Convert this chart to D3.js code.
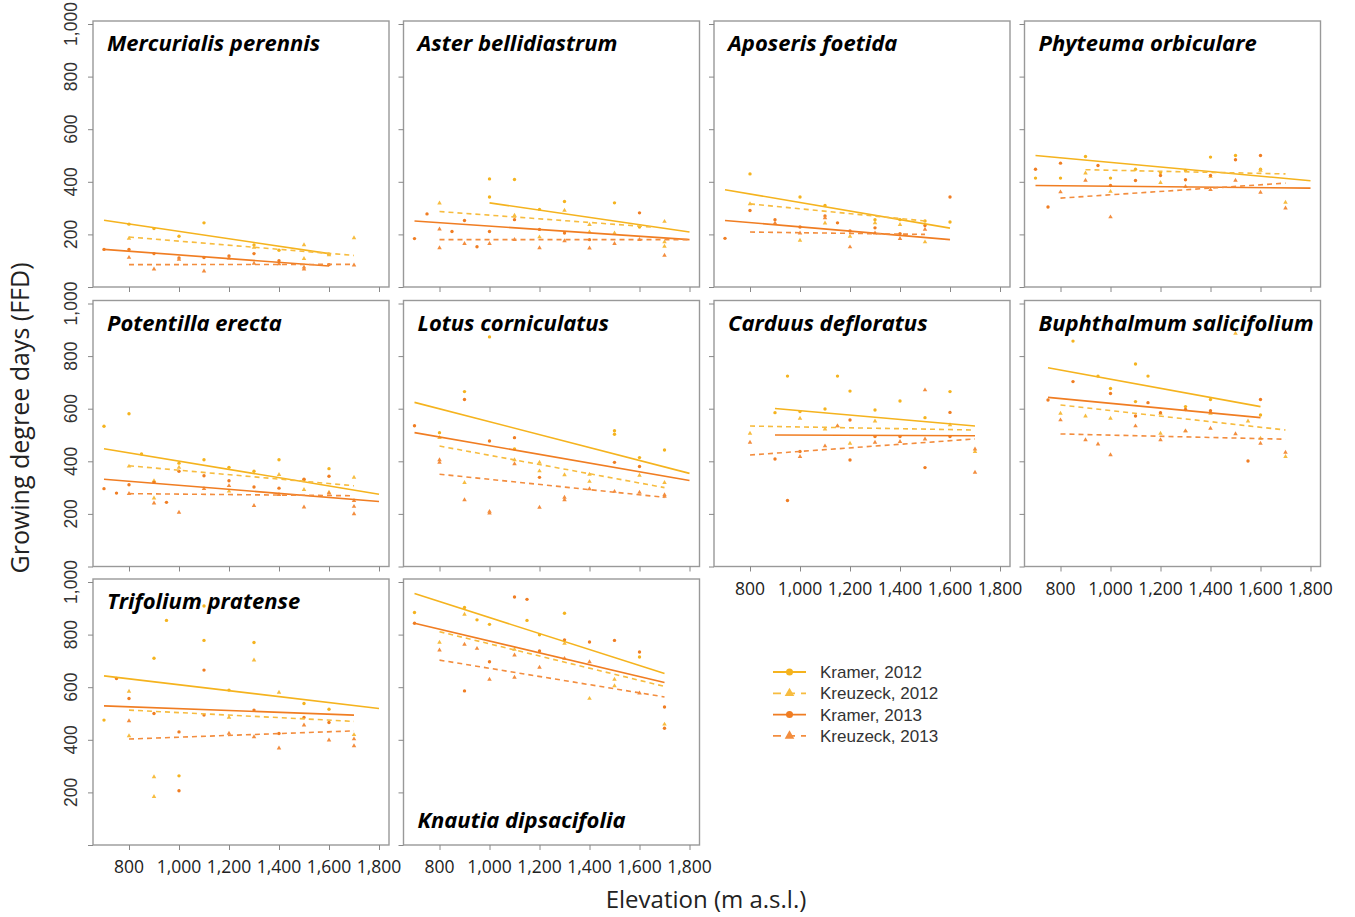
<!DOCTYPE html>
<html>
<head>
<meta charset="utf-8">
<script src="https://cdn.jsdelivr.net/npm/d3@7"></script>
<style>
  body { margin: 0; background: #fff; }
  svg { display: block; }
</style>
</head>
<body>
<svg id="chart" width="1355" height="917"></svg>
<script>
// species panels, in reading order
const species = ['Mercurialis perennis', 'Aster bellidiastrum', 'Aposeris foetida', 'Phyteuma orbiculare',
  'Potentilla erecta', 'Lotus corniculatus', 'Carduus defloratus', 'Buphthalmum salicifolium',
  'Trifolium pratense', 'Knautia dipsacifolia']

const seriesNames = ['Kramer, 2012', 'Kreuzeck, 2012', 'Kramer, 2013', 'Kreuzeck, 2013']
const seriesColors = ['#f5b31e', '#f7bc3f', '#f07d22', '#f38d3e']

const xTicks = [800, 1000, 1200, 1400, 1600, 1800]
const yTicks = [0, 200, 400, 600, 800, 1000]

// regression lines: [elev start, FFD start, elev end, FFD end]
const lineK12 = [[700,254,1600,127],[1000,320,1800,209],[700,370,1600,224],[700,500,1800,404],[700,448,1800,275],
  [700,624,1800,354],[900,601,1700,534],[750,756,1600,608],[700,643,1800,519],[700,956,1700,652]]
const lineKz12 = [[800,190,1700,120],[800,287,1650,228],[800,316,1500,251],[900,446,1700,430],[800,383,1700,307],
  [800,458,1700,300],[800,534,1700,519],[800,614,1700,519],[800,513,1700,470],[800,811,1700,603]]
const lineK13 = [[700,143,1600,80],[700,251,1800,180],[700,253,1600,180],[700,386,1800,376],[700,332,1800,247],
  [700,509,1800,327],[900,500,1700,497],[750,643,1600,566],[700,529,1700,494],[700,843,1700,618]]
const lineKz13 = [[800,85,1700,86],[800,180,1800,180],[800,209,1500,200],[800,338,1700,395],[800,277,1700,269],
  [800,351,1700,263],[800,424,1700,485],[800,504,1700,484],[800,403,1700,434],[800,703,1700,563]]

// observations [elevation, FFD]
const ptsK12 = [
  [[800,239],[900,222],[1000,193],[1100,244],[1300,160],[1400,140],[1600,125]],
  [[1000,411],[1100,409],[1000,342],[1300,325],[1500,320],[1200,295],[1600,228]],
  [[800,430],[1000,342],[1100,310],[1300,256],[1400,256],[1500,251],[1600,247]],
  [[700,414],[800,414],[900,496],[1000,414],[1100,448],[1200,435],[1300,443],[1400,494],[1500,500],[1600,448]],
  [[700,533],[800,581],[850,428],[1000,393],[1100,406],[1200,377],[1300,362],[1400,406],[1500,330],[1600,372]],
  [[1000,873],[900,665],[800,509],[1100,447],[1500,516],[1500,503],[1600,414],[1700,443]],
  [[950,724],[1150,724],[1200,667],[900,585],[1000,589],[1100,599],[1300,595],[1400,629],[1500,566],[1600,665]],
  [[850,857],[1100,770],[1150,724],[1000,677],[950,724],[1100,627],[1300,608],[1400,635],[1600,576]],
  [[1100,909],[950,854],[1100,778],[1300,770],[900,710],[1200,589],[700,475],[1500,538],[1600,516],[1000,263]],
  [[700,884],[900,903],[950,856],[1000,839],[1150,854],[1200,799],[1300,881],[1600,715]]
]
const ptsKz12 = [
  [[800,185],[1300,150],[1500,160],[1500,108],[1700,187],[1600,122]],
  [[800,319],[1300,291],[1100,272],[1400,237],[1700,249],[1700,171],[1700,154],[1400,209],[1500,205],[1200,190]],
  [[800,316],[1100,243],[1300,244],[1400,237],[1500,171],[1000,177],[1200,192]],
  [[900,433],[1000,363],[1200,397],[1400,420],[1600,443],[1700,322]],
  [[800,381],[900,326],[1000,377],[1400,349],[1500,292],[1700,339],[1600,282],[1200,286],[900,260]],
  [[800,490],[900,319],[1100,405],[1200,396],[1200,363],[1300,348],[1400,323],[1400,350],[1600,346],[1700,319]],
  [[800,506],[1000,563],[1100,522],[1150,534],[1200,468],[1300,553],[1600,538],[1700,437]],
  [[1500,886],[800,582],[900,572],[1000,563],[1200,582],[1200,506],[1300,515],[1400,582],[1550,553],[1600,487],[1700,418]],
  [[1300,703],[1400,580],[800,584],[800,415],[900,259],[900,184],[1700,419],[1200,485]],
  [[900,877],[1300,766],[1400,557],[1500,630],[1500,605],[1700,459],[800,770],[1100,744]]
]
const ptsK13 = [
  [[700,143],[800,143],[900,127],[1000,110],[1100,112],[1200,118],[1300,127],[1400,100],[1600,85]],
  [[700,184],[750,278],[850,211],[900,253],[950,153],[1000,211],[1100,256],[1200,219],[1300,205],[1400,180],[1600,282]],
  [[700,185],[800,291],[900,256],[1000,228],[1100,270],[1150,244],[1200,213],[1300,225],[1400,203],[1500,234],[1600,342]],
  [[700,448],[750,304],[800,471],[950,462],[1000,386],[1100,405],[1200,424],[1300,408],[1400,424],[1500,484],[1600,500]],
  [[700,296],[750,279],[800,311],[900,320],[950,244],[1000,362],[1100,345],[1200,326],[1300,302],[1400,298],[1500,332],[1600,343]],
  [[700,535],[900,635],[1000,477],[1100,490],[1200,339],[1500,396],[1600,380]],
  [[900,409],[950,251],[1000,437],[1200,557],[1200,405],[1300,494],[1400,494],[1500,376],[1600,586],[1600,494]],
  [[750,633],[850,703],[1000,658],[1100,572],[1150,623],[1200,585],[1300,597],[1400,592],[1600,635],[1550,401]],
  [[750,633],[800,557],[900,500],[1000,430],[1100,665],[1100,494],[1300,513],[1400,424],[1500,485],[1600,466],[1000,206]],
  [[700,843],[900,586],[1000,697],[1100,943],[1150,934],[1200,738],[1300,780],[1400,772],[1500,778],[1600,734],[1700,525],[1700,444]]
]
const ptsKz13 = [
  [[800,112],[900,68],[1000,105],[1100,60],[1200,110],[1300,90],[1400,88],[1500,68],[1500,75],[1700,83]],
  [[800,220],[800,149],[900,165],[1000,165],[1100,180],[1200,149],[1300,175],[1400,148],[1500,165],[1600,180],[1700,120]],
  [[900,243],[1000,205],[1100,263],[1200,152],[1300,205],[1400,184],[1500,219]],
  [[800,361],[900,405],[1000,266],[1300,382],[1400,370],[1500,405],[1600,360],[1700,300]],
  [[800,277],[900,241],[1000,206],[1100,296],[1200,307],[1300,231],[1400,273],[1500,226],[1600,279],[1700,228],[1700,200],[1700,250]],
  [[800,405],[800,396],[900,253],[1000,209],[1000,203],[1100,390],[1200,225],[1300,263],[1300,253],[1400,295],[1500,285],[1600,282],[1700,272],[1700,266]],
  [[800,472],[1000,418],[1100,458],[1150,534],[1300,472],[1400,475],[1500,671],[1500,484],[1700,446],[1700,358]],
  [[800,557],[900,481],[950,465],[1000,424],[1100,534],[1200,481],[1300,515],[1400,525],[1500,504],[1600,468],[1700,434]],
  [[800,472],[1200,424],[1300,411],[1400,368],[1500,456],[1600,399],[1700,403],[1700,377]],
  [[800,741],[900,763],[950,747],[1000,630],[1100,722],[1100,637],[1200,675],[1300,709],[1400,696],[1600,577]]
]

const allLines = [lineK12, lineKz12, lineK13, lineKz13]
const allPts = [ptsK12, ptsKz12, ptsK13, ptsKz13]
const dashed = [false, true, false, true]
const triangle = [false, true, false, true]

const svg = d3.select('#chart')
const panelW = 296, colStep = 310.5, left0 = 93
const rowBase = [287, 566.5, 845]
const fmt = d3.format(',')

species.forEach(function (name, i) {
  const row = Math.floor(i / 4), col = i % 4
  const x0 = left0 + col * colStep
  const x = d3.scaleLinear().domain([656, 1840]).range([x0, x0 + panelW])
  const y = d3.scaleLinear().domain([0, 1000]).range([rowBase[row], rowBase[row] - 263])
  const g = svg.append('g')

  // frame
  g.append('rect')
    .attr('x', x0).attr('y', y(1000) - 3)
    .attr('width', panelW).attr('height', y(0) - y(1000) + 3)
    .attr('fill', 'none').attr('stroke', '#999').attr('stroke-width', 1.4)

  // y axis
  const ya = g.append('g').attr('transform', 'translate(' + x0 + ',0)')
    .call(d3.axisLeft(y).tickValues(yTicks).tickSize(5).tickFormat(''))
  ya.select('.domain').remove()
  ya.selectAll('line').attr('stroke', '#888')

  if (col === 0) {
    g.selectAll('.ylab').data(yTicks.filter(d => d > 0)).join('text')
      .attr('transform', d => 'translate(77,' + y(d) + ') rotate(-90)')
      .attr('text-anchor', 'middle')
      .style('font-family', 'Liberation Sans, Arial, sans-serif')
      .style('font-size', '17.5px').attr('fill', '#333')
      .text(d => fmt(d))
  }

  // x axis
  const xa = g.append('g').attr('transform', 'translate(0,' + y(0) + ')')
    .call(d3.axisBottom(x).tickValues(xTicks).tickSize(5).tickFormat(''))
  xa.select('.domain').remove()
  xa.selectAll('line').attr('stroke', '#888')

  if (i + 4 >= species.length) {
    g.selectAll('.xlab').data(xTicks).join('text')
      .attr('x', d => x(d)).attr('y', y(0) + 28)
      .attr('text-anchor', 'middle')
      .style('font-family', 'Open Sans, sans-serif')
      .style('font-size', '17.5px').attr('fill', '#222')
      .text(d => fmt(d))
  }

  // points
  allPts.forEach(function (set, s) {
    const pts = set[i]
    if (triangle[s]) {
      g.selectAll('.tri' + s).data(pts).join('path')
        .attr('d', d3.symbol(d3.symbolTriangle, 9))
        .attr('transform', d => 'translate(' + x(d[0]) + ',' + y(d[1]) + ')')
        .attr('fill', seriesColors[s])
    } else {
      g.selectAll('.dot' + s).data(pts).join('circle')
        .attr('cx', d => x(d[0])).attr('cy', d => y(d[1]))
        .attr('r', 1.7).attr('fill', seriesColors[s])
    }
  })

  // regression lines
  allLines.forEach(function (set, s) {
    const l = set[i]
    g.append('line')
      .attr('x1', x(l[0])).attr('y1', y(l[1]))
      .attr('x2', x(l[2])).attr('y2', y(l[3]))
      .attr('stroke', seriesColors[s]).attr('stroke-width', 1.6)
      .attr('stroke-dasharray', dashed[s] ? '5,4' : null)
  })

  // species name
  const bottomTitle = name === 'Knautia dipsacifolia'
  g.append('text')
    .attr('x', x0 + 14)
    .attr('y', bottomTitle ? y(0) - 17 : y(1000) + 27)
    .style('font-family', 'Open Sans, sans-serif')
    .style('font-weight', 'bold').style('font-style', 'italic')
    .style('font-size', '22px').attr('fill', '#000')
    .text(name)
})

// axis titles
svg.append('text')
  .attr('transform', 'translate(29,418) rotate(-90)')
  .attr('text-anchor', 'middle')
  .style('font-family', 'Open Sans, sans-serif').style('font-size', '25px')
  .attr('fill', '#222')
  .text('Growing degree days (FFD)')

svg.append('text')
  .attr('x', 706).attr('y', 908)
  .attr('text-anchor', 'middle')
  .style('font-family', 'Open Sans, sans-serif').style('font-size', '24px')
  .attr('fill', '#222')
  .text('Elevation (m a.s.l.)')

// legend
const legend = svg.append('g').attr('transform', 'translate(773,672)')
seriesNames.forEach(function (name, s) {
  const row = legend.append('g').attr('transform', 'translate(0,' + s * 21.3 + ')')
  row.append('line')
    .attr('x1', 0).attr('x2', 33).attr('y1', 0).attr('y2', 0)
    .attr('stroke', seriesColors[s]).attr('stroke-width', 1.8)
    .attr('stroke-dasharray', dashed[s] ? '8,6' : null)
  if (triangle[s]) {
    row.append('path').attr('d', d3.symbol(d3.symbolTriangle, 40))
      .attr('transform', 'translate(16.5,0)').attr('fill', seriesColors[s])
  } else {
    row.append('circle').attr('cx', 16.5).attr('cy', 0).attr('r', 3.5).attr('fill', seriesColors[s])
  }
  row.append('text')
    .attr('x', 47).attr('y', 6)
    .style('font-family', 'Liberation Sans, Arial, sans-serif').style('font-size', '17px')
    .attr('fill', '#333')
    .text(name)
})
</script>
</body>
</html>
